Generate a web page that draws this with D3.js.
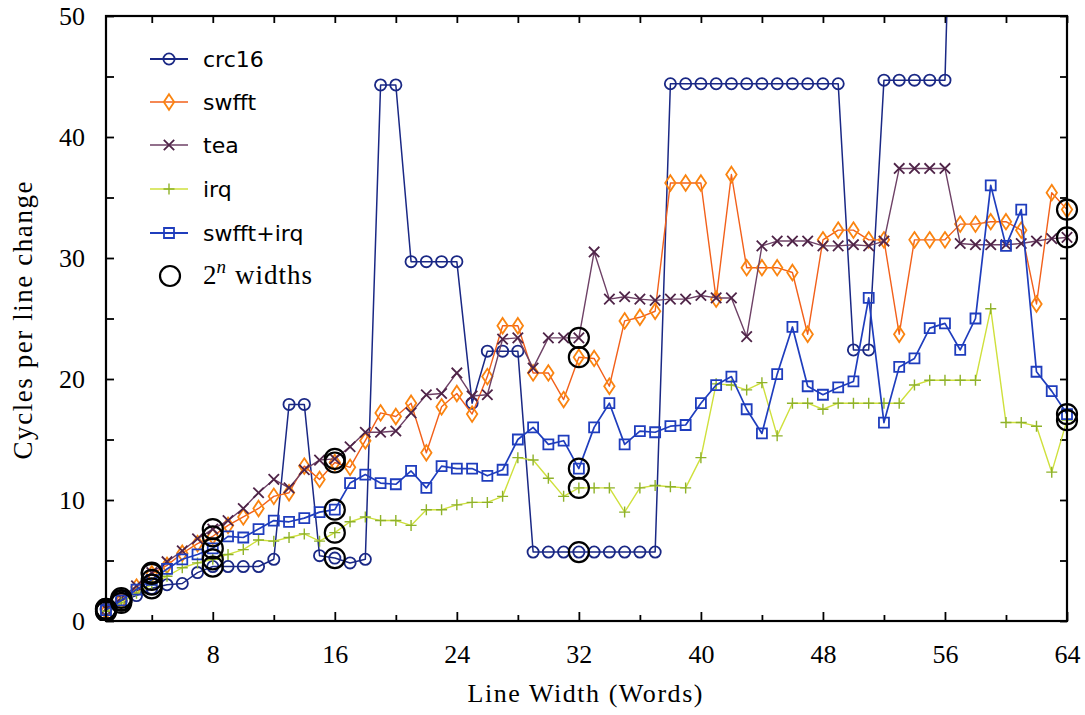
<!DOCTYPE html>
<html>
<head>
<meta charset="utf-8">
<script src="https://cdn.jsdelivr.net/npm/d3@7"></script>
<style>
  body { margin: 0; background: #fff; }
  svg { display: block; }
</style>
</head>
<body>
<svg id="chart" width="1085" height="715"></svg>
<script>
// Line widths measured (words per line)
const lineWidths = [1, 2, 3, 4, 5, 6, 7, 8, 9, 10, 11, 12, 13, 14, 15, 16,
  17, 18, 19, 20, 21, 22, 23, 24, 25, 26, 27, 28, 29, 30, 31, 32,
  33, 34, 35, 36, 37, 38, 39, 40, 41, 42, 43, 44, 45, 46, 47, 48,
  49, 50, 51, 52, 53, 54, 55, 56, 57, 58, 59, 60, 61, 62, 63, 64];

// Power-of-two widths, highlighted with rings
const powerWidths = [1, 2, 4, 8, 16, 32, 64];

// Cycles per line change for each benchmark
const crc16 = [1.0, 1.7, 2.1, 2.7, 3.0, 3.1, 4.0, 4.5, 4.5, 4.5, 4.5, 5.1,
  17.9, 17.9, 5.4, 5.2, 4.8, 5.1, 44.3, 44.3, 29.7, 29.7, 29.7, 29.7,
  18.0, 22.3, 22.3, 22.3, 5.7, 5.7, 5.7, 5.7, 5.7, 5.7, 5.7, 5.7,
  5.7, 44.4, 44.4, 44.4, 44.4, 44.4, 44.4, 44.4, 44.4, 44.4, 44.4, 44.4,
  44.4, 22.4, 22.4, 44.7, 44.7, 44.7, 44.7, 44.7, 89.4, 89.4, 89.4, 89.4,
  89.4, 89.4, 89.4, 89.4];

const swfft = [0.8, 1.7, 2.8, 3.9, 4.6, 5.6, 6.4, 7.0, 7.9, 8.6, 9.3, 10.3,
  10.6, 12.8, 11.7, 13.1, 12.7, 14.9, 17.2, 16.9, 18.0, 13.9, 17.7, 18.8,
  17.1, 20.2, 24.4, 24.4, 20.5, 20.5, 18.3, 21.8, 21.7, 19.4, 24.8, 25.1,
  25.6, 36.2, 36.2, 36.2, 26.6, 36.9, 29.2, 29.2, 29.2, 28.8, 23.7, 31.5,
  32.3, 32.3, 31.5, 31.5, 23.7, 31.5, 31.5, 31.5, 32.8, 32.8, 33.0, 33.0,
  32.3, 26.2, 35.4, 34.0];

const tea = [1.0, 1.9, 2.9, 4.0, 4.9, 5.8, 6.8, 7.6, 8.3, 9.3, 10.6, 11.7,
  11.0, 12.5, 13.3, 13.4, 14.4, 15.6, 15.6, 15.7, 17.2, 18.7, 18.8, 20.5,
  18.6, 18.7, 23.3, 23.4, 20.9, 23.4, 23.4, 23.4, 30.5, 26.6, 26.8, 26.6,
  26.5, 26.6, 26.6, 26.9, 26.7, 26.7, 23.5, 31.0, 31.4, 31.4, 31.4, 31.0,
  31.0, 31.1, 31.0, 31.4, 37.4, 37.4, 37.4, 37.4, 31.2, 31.1, 31.1, 31.1,
  31.2, 31.4, 31.6, 31.7];

const irq = [0.8, 1.5, 2.3, 3.0, 3.7, 4.4, 4.8, 5.1, 5.5, 5.9, 6.7, 6.6,
  6.9, 7.2, 6.6, 7.3, 8.2, 8.6, 8.3, 8.3, 7.9, 9.2, 9.2, 9.6,
  9.8, 9.8, 10.3, 13.5, 13.3, 11.8, 10.3, 11.0, 11.0, 11.0, 9.0, 11.0,
  11.2, 11.1, 11.0, 13.5, 19.6, 19.5, 19.1, 19.7, 15.3, 18.0, 18.0, 17.5,
  18.0, 18.0, 18.0, 18.0, 18.0, 19.5, 19.9, 19.9, 19.9, 19.9, 25.8, 16.4,
  16.4, 16.1, 12.3, 16.6];

const swfftIrq = [0.9, 1.7, 2.6, 3.4, 4.3, 5.1, 5.5, 6.0, 7.0, 6.9, 7.6, 8.3,
  8.2, 8.5, 9.0, 9.2, 11.4, 12.1, 11.4, 11.3, 12.4, 11.0, 12.8, 12.6,
  12.6, 12.0, 12.5, 15.0, 16.0, 14.6, 14.9, 12.6, 16.0, 18.0, 14.6, 15.7,
  15.6, 16.1, 16.2, 18.0, 19.5, 20.2, 17.5, 15.5, 20.4, 24.3, 19.4, 18.7,
  19.3, 19.8, 26.7, 16.4, 21.0, 21.7, 24.2, 24.6, 22.4, 25.0, 36.0, 31.0,
  34.0, 20.6, 19.0, 17.1];

// Axis ticks
const xMajorTicks = [8, 16, 24, 32, 40, 48, 56, 64];
const xMinorTicks = [4, 12, 20, 28, 36, 44, 52, 60];
const yMajorTicks = [0, 10, 20, 30, 40, 50];
const yMinorTicks = [5, 15, 25, 35, 45];

// Marker outlines, centred on (0,0)
const shapes = {
  circle: r => `M${r},0A${r},${r} 0 1,1 ${-r},0A${r},${r} 0 1,1 ${r},0Z`,
  diamond: r => `M0,${-r * 1.5}L${r},0L0,${r * 1.5}L${-r},0Z`,
  times: r => `M${-r},${-r}L${r},${r}M${-r},${r}L${r},${-r}`,
  plus: r => `M${-r},0L${r},0M0,${-r}L0,${r}`,
  square: r => `M${-r},${-r}H${r}V${r}H${-r}Z`
};

const series = [
  { name: "crc16", values: crc16, line: "#1a2885", mark: "#1a2885", shape: "circle", size: 5.6, lw: 1.5, mw: 1.8 },
  { name: "swfft", values: swfft, line: "#f2601a", mark: "#fa8410", shape: "diamond", size: 5.2, lw: 1.4, mw: 1.8 },
  { name: "tea", values: tea, line: "#6e4166", mark: "#4f2448", shape: "times", size: 5.2, lw: 1.4, mw: 1.8 },
  { name: "irq", values: irq, line: "#cfe03c", mark: "#8fb22a", shape: "plus", size: 5.5, lw: 1.4, mw: 1.4 },
  { name: "swfft+irq", values: swfftIrq, line: "#1f3dbd", mark: "#1f3dbd", shape: "square", size: 5.0, lw: 1.7, mw: 1.8 }
];

const svg = d3.select("#chart");
const W = 1085, H = 715;
const plot = { left: 106, right: 1067, top: 16, bottom: 621 };

svg.append("rect").attr("width", W).attr("height", H).attr("fill", "#fff");

const x = d3.scaleLinear().domain([1, 64]).range([plot.left, plot.right]);
const y = d3.scaleLinear().domain([0, 50]).range([plot.bottom, plot.top]);

const defs = svg.append("defs");
defs.append("clipPath").attr("id", "plotClip")
  .append("rect")
  .attr("x", 0).attr("y", plot.top)
  .attr("width", W).attr("height", plot.bottom - plot.top);

const serifFont = "'Liberation Serif', 'Times New Roman', serif";
const sansFont = "'DejaVu Sans', Verdana, sans-serif";

// Axes: ticks point inward and are mirrored on the opposite sides
function styleAxis(g) {
  g.select(".domain").remove();
  g.selectAll(".tick line").attr("stroke", "#000").attr("stroke-width", 1.8);
  g.selectAll(".tick text")
    .attr("font-family", serifFont)
    .attr("font-size", 26)
    .attr("fill", "#000");
}

svg.append("g")
  .attr("transform", `translate(0,${plot.bottom})`)
  .call(d3.axisBottom(x).tickValues(xMajorTicks).tickSize(-9).tickPadding(24).tickFormat(d3.format("d")))
  .call(styleAxis);
svg.append("g")
  .attr("transform", `translate(0,${plot.bottom})`)
  .call(d3.axisBottom(x).tickValues(xMinorTicks).tickSize(-6).tickFormat(""))
  .call(styleAxis);
svg.append("g")
  .attr("transform", `translate(0,${plot.top})`)
  .call(d3.axisTop(x).tickValues(xMajorTicks.concat(xMinorTicks)).tickSize(-7).tickFormat(""))
  .call(styleAxis);

svg.append("g")
  .attr("transform", `translate(${plot.left},0)`)
  .call(d3.axisLeft(y).tickValues(yMajorTicks).tickSize(-8).tickPadding(21).tickFormat(d3.format("d")))
  .call(styleAxis);
svg.append("g")
  .attr("transform", `translate(${plot.left},0)`)
  .call(d3.axisLeft(y).tickValues(yMinorTicks).tickSize(-8).tickFormat(""))
  .call(styleAxis);
svg.append("g")
  .attr("transform", `translate(${plot.right},0)`)
  .call(d3.axisRight(y).tickValues(yMajorTicks.concat(yMinorTicks)).tickSize(-7).tickFormat(""))
  .call(styleAxis);

// Axis titles
svg.append("text")
  .attr("x", 585)
  .attr("y", 702)
  .attr("text-anchor", "middle")
  .attr("font-family", serifFont)
  .attr("font-size", 26)
  .attr("textLength", 235)
  .attr("lengthAdjust", "spacing")
  .text("Line Width (Words)");

svg.append("text")
  .attr("transform", `translate(32,${(plot.top + plot.bottom) / 2 + 2}) rotate(-90)`)
  .attr("text-anchor", "middle")
  .attr("font-family", serifFont)
  .attr("font-size", 27)
  .attr("textLength", 278)
  .attr("lengthAdjust", "spacing")
  .text("Cycles per line change");

// Data layer
const dataLayer = svg.append("g").attr("clip-path", "url(#plotClip)");
const line = d3.line().x(d => x(d.w)).y(d => y(d.v));

series.forEach(s => {
  const pts = lineWidths.map((w, i) => ({ w, v: s.values[i] }));
  const g = dataLayer.append("g");
  g.append("path")
    .datum(pts)
    .attr("fill", "none")
    .attr("stroke", s.line)
    .attr("stroke-width", s.lw)
    .attr("stroke-linejoin", "round")
    .attr("d", line);
  g.selectAll("path.mark")
    .data(pts.filter(p => p.v <= 50))
    .join("path")
    .attr("class", "mark")
    .attr("transform", p => `translate(${x(p.w)},${y(p.v)})`)
    .attr("d", shapes[s.shape](s.size))
    .attr("fill", "none")
    .attr("stroke", s.mark)
    .attr("stroke-width", s.mw);
});

// Rings around the power-of-two widths
series.forEach(s => {
  dataLayer.selectAll(null)
    .data(powerWidths.map(w => ({ w, v: s.values[lineWidths.indexOf(w)] })).filter(p => p.v <= 50))
    .join("path")
    .attr("transform", p => `translate(${x(p.w)},${y(p.v)})`)
    .attr("d", shapes.circle(10))
    .attr("fill", "none")
    .attr("stroke", "#000")
    .attr("stroke-width", 2.2);
});

// Plot frame
svg.append("rect")
  .attr("x", plot.left).attr("y", plot.top)
  .attr("width", plot.right - plot.left).attr("height", plot.bottom - plot.top)
  .attr("fill", "none").attr("stroke", "#000").attr("stroke-width", 2.2);

// Legend
const legend = svg.append("g");
const legendRowY = [59, 102, 145, 189, 233];
series.forEach((s, i) => {
  const row = legend.append("g").attr("transform", `translate(0,${legendRowY[i]})`);
  row.append("line")
    .attr("x1", 150).attr("x2", 188)
    .attr("stroke", s.line).attr("stroke-width", s.lw + 0.3);
  row.append("path")
    .attr("transform", "translate(169,0)")
    .attr("d", shapes[s.shape](s.size))
    .attr("fill", "none")
    .attr("stroke", s.mark)
    .attr("stroke-width", s.mw);
  row.append("text")
    .attr("x", 203).attr("dy", "0.35em")
    .attr("font-family", sansFont)
    .attr("font-size", 22)
    .attr("fill", "#000")
    .text(s.name);
});
const ringRow = legend.append("g").attr("transform", "translate(0,276)");
ringRow.append("path")
  .attr("transform", "translate(170,0)")
  .attr("d", shapes.circle(10))
  .attr("fill", "none").attr("stroke", "#000").attr("stroke-width", 2.2);
const ringText = ringRow.append("text")
  .attr("x", 203).attr("y", 8)
  .attr("font-family", serifFont)
  .attr("font-size", 27)
  .attr("fill", "#000");
ringText.append("tspan").text("2");
ringText.append("tspan").attr("dy", -11).attr("font-size", 19).attr("font-style", "italic").text("n");
ringText.append("tspan").attr("dy", 11).attr("dx", 9).attr("letter-spacing", 1).text("widths");
</script>
</body>
</html>
